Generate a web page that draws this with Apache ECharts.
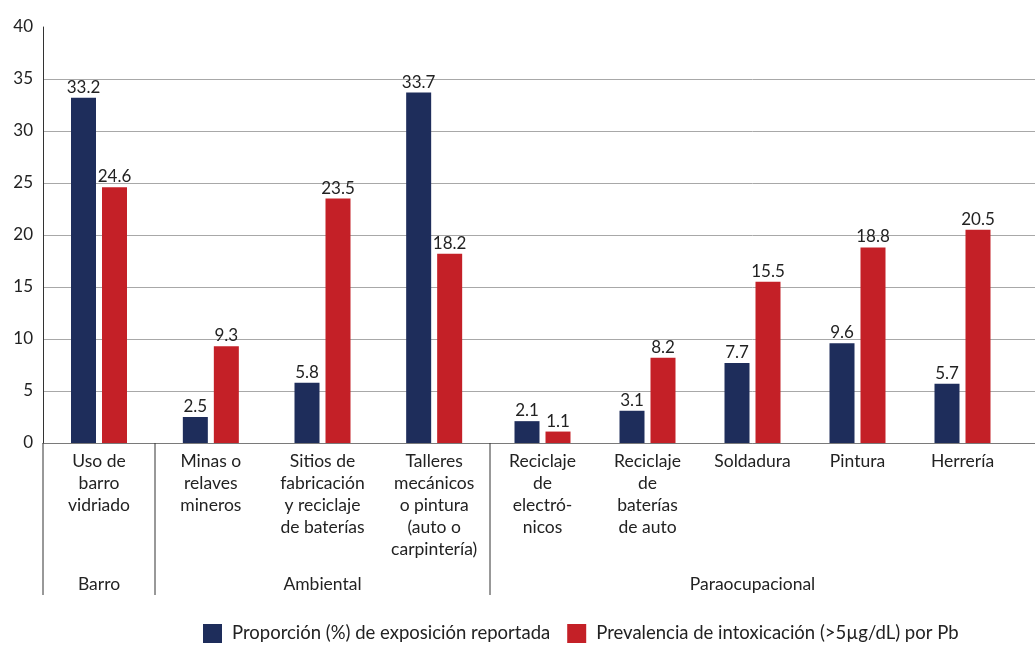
<!DOCTYPE html>
<html><head><meta charset="utf-8">
<script src="https://cdn.jsdelivr.net/npm/echarts@6/dist/echarts.min.js"></script>
<style>html,body{margin:0;padding:0;background:#fff}#c{width:1035px;height:645px}</style>
</head><body><div id="c"></div>
<script>
// ---- data ----
const categories = [
  'Uso de\nbarro\nvidriado',
  'Minas o\nrelaves\nmineros',
  'Sitios de\nfabricación\ny reciclaje\nde baterías',
  'Talleres\nmecánicos\no pintura\n(auto o\ncarpintería)',
  'Reciclaje\nde\nelectró-\nnicos',
  'Reciclaje\nde\nbaterías\nde auto',
  'Soldadura',
  'Pintura',
  'Herrería'
];
const exposure   = [33.2, 2.5, 5.8, 33.7, 2.1, 3.1, 7.7, 9.6, 5.7];
const prevalence = [24.6, 9.3, 23.5, 18.2, 1.1, 8.2, 15.5, 18.8, 20.5];
const groupNames = ['Barro', 'Ambiental', 'Paraocupacional'];
const groupSizes = [1, 3, 5];
const seriesNames = ['Proporción (%) de exposición reportada', 'Prevalencia de intoxicación (>5µg/dL) por Pb'];
const yMin = 0, yMax = 40, yStep = 5;

// ---- layout / style ----
const W = 1035, H = 645;
const FONT = 'Lato';
const TXT = '#222';
const NAVY = '#1e2d5b', RED = '#c42027';
const bounds = [43, 155, 490, 1015, 1035];
const gTop = 27, gBottom = 202;

const grids = [], xAxes = [], yAxes = [], series = [];
let start = 0;
for (let i = 0; i < bounds.length - 1; i++) {
  grids.push({left: bounds[i], width: bounds[i + 1] - bounds[i], top: gTop, bottom: gBottom, containLabel: false});
  const isGroup = i < groupNames.length;
  const cats = isGroup ? categories.slice(start, start + groupSizes[i]) : [''];
  xAxes.push({
    type: 'category', gridIndex: i, data: cats,
    axisLine: {show: true, lineStyle: {color: '#7a7a7a', width: 1}},
    axisTick: {show: false},
    axisLabel: {show: isGroup, interval: 0, fontFamily: FONT, fontSize: 17.5, lineHeight: 22, color: TXT, margin: 7},
    name: isGroup ? groupNames[i] : '',
    nameLocation: 'middle', nameGap: 132,
    nameTextStyle: {fontFamily: FONT, fontSize: 17.5, color: TXT}
  });
  yAxes.push({
    type: 'value', gridIndex: i, min: yMin, max: yMax, interval: yStep,
    axisLine: {show: i === 0, lineStyle: {color: '#333'}},
    axisTick: {show: false},
    axisLabel: {show: i === 0, fontFamily: FONT, fontSize: 17, color: TXT, margin: 10},
    splitLine: {show: true, showMaxLine: false, lineStyle: {color: '#a8a8a8', width: 1}}
  });
  if (isGroup) {
    const lbl = {show: true, position: 'top', distance: 2, fontFamily: FONT, fontSize: 17, color: TXT};
    series.push({
      type: 'bar', name: seriesNames[0], xAxisIndex: i, yAxisIndex: i,
      data: exposure.slice(start, start + groupSizes[i]),
      barWidth: 25, barGap: '24%', itemStyle: {color: NAVY}, label: lbl
    });
    series.push({
      type: 'bar', name: seriesNames[1], xAxisIndex: i, yAxisIndex: i,
      data: prevalence.slice(start, start + groupSizes[i]),
      barWidth: 25, barGap: '24%', itemStyle: {color: RED}, label: lbl
    });
    start += groupSizes[i];
  }
}

const axisY = H - gBottom;
const sepBottom = 595;
const graphic = bounds.slice(0, groupNames.length).map(x => ({
  type: 'line', shape: {x1: x, y1: axisY, x2: x, y2: sepBottom},
  style: {stroke: '#333', lineWidth: 1}, z: 10
}));

const chart = echarts.init(document.getElementById('c'), null, {renderer: 'canvas'});
chart.setOption({
  animation: false,
  backgroundColor: '#fff',
  grid: grids, xAxis: xAxes, yAxis: yAxes, series: series,
  graphic: graphic,
  legend: {
    data: seriesNames, left: 203, top: 624, padding: 0, icon: 'rect',
    itemWidth: 19, itemHeight: 19, itemGap: 17,
    textStyle: {fontFamily: FONT, fontSize: 18.5, lineHeight: 19, color: TXT, padding: [0, 0, 0, 5]}
  }
});
</script></body></html>
